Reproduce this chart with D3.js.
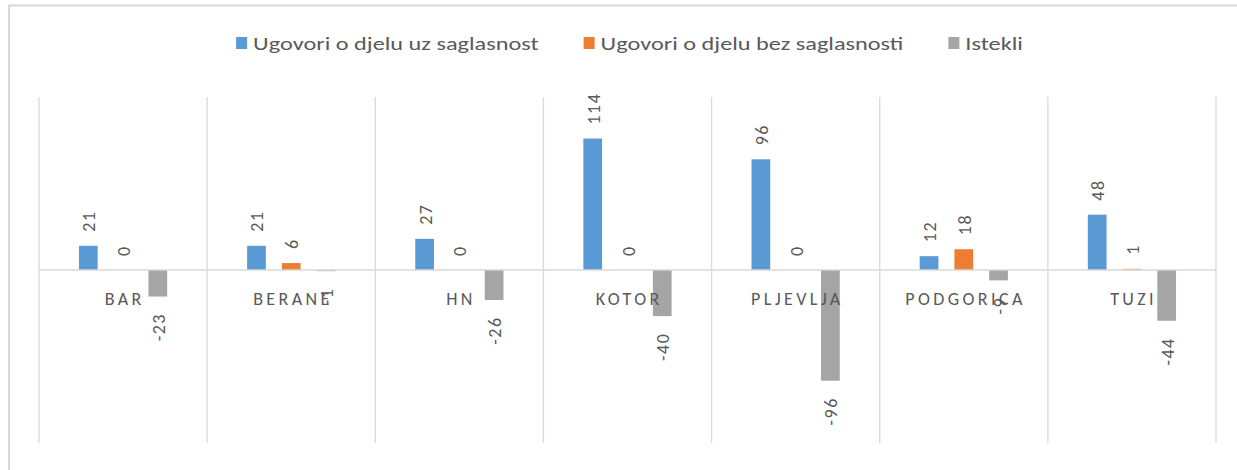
<!DOCTYPE html>
<html>
<head>
<meta charset="utf-8">
<script src="https://cdn.jsdelivr.net/npm/d3@7/dist/d3.min.js"></script>
<style>
  html, body { margin: 0; padding: 0; background: #fff; }
  svg { display: block; }
  text { font-family: Carlito, Lato, "Open Sans", sans-serif; fill: #595959; }
</style>
</head>
<body>
<svg id="chart" width="1237" height="470"></svg>
<script>
const categories = ["BAR", "BERANE", "HN", "KOTOR", "PLJEVLJA", "PODGORICA", "TUZI"];
const seriesNames = ["Ugovori o djelu uz saglasnost", "Ugovori o djelu bez saglasnosti", "Istekli"];
const uzSaglasnost = [21, 21, 27, 114, 96, 12, 48];
const bezSaglasnosti = [0, 6, 0, 0, 0, 18, 1];
const istekli = [-23, -1, -26, -40, -96, -9, -44];
const seriesColors = ["#5b9bd5", "#ed7d31", "#a5a5a5"];

const seriesValues = [uzSaglasnost, bezSaglasnosti, istekli];
const W = 1237, H = 470;
const plot = { left: 39, right: 1216, top: 97, bottom: 443 };
const LSX = 1.35; // horizontal stretch of legend text

const svg = d3.select("#chart");

// outer frame (top and left edges visible)
svg.append("line").attr("x1", 8).attr("x2", W).attr("y1", 5.5).attr("y2", 5.5)
  .attr("stroke", "#d9d9d9").attr("stroke-width", 2);
svg.append("line").attr("x1", 9).attr("x2", 9).attr("y1", 5).attr("y2", H)
  .attr("stroke", "#d9d9d9").attr("stroke-width", 2);

const x = d3.scaleBand().domain(categories).range([plot.left, plot.right]).padding(0);
const xs = d3.scaleBand().domain([0, 1, 2]).range([0, x.bandwidth()])
  .paddingInner(0.461).paddingOuter(1.15);
const y = d3.scaleLinear().domain([-150, 150]).range([plot.bottom, plot.top]);

// vertical category gridlines
const bounds = categories.map(c => x(c)).concat([plot.right]);
svg.append("g").selectAll("line").data(bounds).join("line")
  .attr("x1", d => d).attr("x2", d => d)
  .attr("y1", plot.top).attr("y2", plot.bottom)
  .attr("stroke", "#d9d9d9").attr("stroke-width", 1.3);

// bars
const barData = [];
categories.forEach((c, ci) => {
  seriesValues.forEach((vals, si) => {
    barData.push({ c, si, v: vals[ci] });
  });
});

svg.append("g").selectAll("rect").data(barData).join("rect")
  .attr("x", d => x(d.c) + xs(d.si))
  .attr("width", xs.bandwidth())
  .attr("y", d => Math.min(y(d.v), y(0)))
  .attr("height", d => Math.abs(y(d.v) - y(0)))
  .attr("fill", d => seriesColors[d.si]);

// zero axis line
svg.append("line").attr("x1", plot.left).attr("x2", plot.right)
  .attr("y1", y(0)).attr("y2", y(0))
  .attr("stroke", "#d9d9d9").attr("stroke-width", 1.5);

// category labels (letter-spaced, drawn at axis)
const LS = 3.4;
svg.append("g").selectAll("text").data(categories).join("text")
  .attr("x", d => x(d) + x.bandwidth() / 2 + LS / 2)
  .attr("y", 305)
  .attr("text-anchor", "middle")
  .style("font-size", "18px")
  .style("letter-spacing", LS + "px")
  .text(d => d);

// data labels
const DLS = 1.5;
svg.append("g").selectAll("text").data(barData).join("text")
  .attr("transform", d => {
    const cx = x(d.c) + xs(d.si) + xs.bandwidth() / 2 + 1;
    const cy = d.v >= 0 ? y(d.v) - 14 : y(d.v) + 15 + DLS;
    return `translate(${cx},${cy}) rotate(-90)`;
  })
  .attr("text-anchor", d => d.v >= 0 ? "start" : "end")
  .attr("dominant-baseline", "central")
  .style("font-size", "18px")
  .style("letter-spacing", DLS + "px")
  .text(d => String(d.v));

// legend
const legend = svg.append("g");
const items = legend.selectAll("g").data(seriesNames).join("g");
items.append("rect").attr("width", 11).attr("height", 12).attr("y", 37)
  .attr("fill", (d, i) => seriesColors[i]);
items.append("text").attr("transform", `translate(17,50) scale(${LSX},1)`)
  .style("font-size", "18px").text(d => d);
let offs = [];
let cur = 0;
items.each(function (d, i) {
  const tw = this.querySelector("text").getComputedTextLength() * LSX;
  offs.push(cur);
  cur += 17 + tw + (i < seriesNames.length - 1 ? 45 : 0);
});
const start = 629.5 - cur / 2;
items.attr("transform", (d, i) => `translate(${start + offs[i]},0)`);
</script>
</body>
</html>
